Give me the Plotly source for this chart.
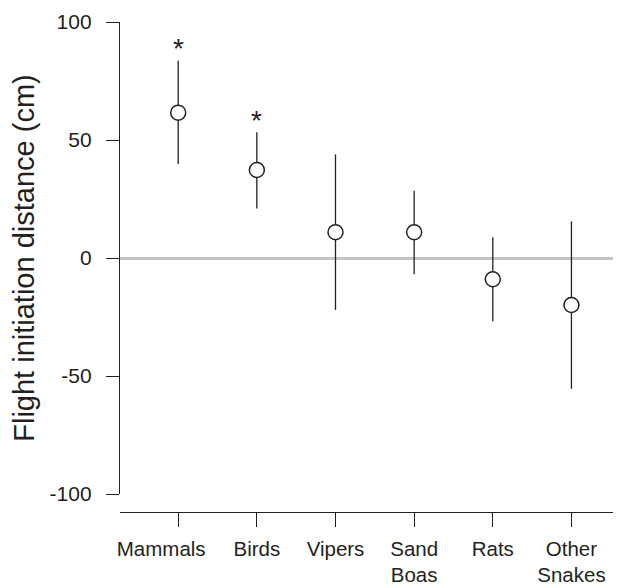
import plotly.graph_objects as go

# ---- data ----
categories = ["Mammals", "Birds", "Vipers", "Sand<br>Boas", "Rats", "Other<br>Snakes"]
means = [61.6, 37.3, 10.9, 10.9, -9.0, -19.9]
upper = [83.6, 53.3, 43.9, 28.5, 8.8, 15.5]
lower = [39.8, 21.0, -22.0, -6.9, -26.8, -55.4]
significant = [True, True, False, False, False, False]
y_ticks = [-100, -50, 0, 50, 100]
y_tick_text = ["-100", "-50", "0", "50", "100"]
y_title = "Flight initiation distance (cm)"

ink = "#231f20"
font_family = "Liberation Sans, Arial, sans-serif"

x_pos = list(range(len(categories)))
err_plus = [u - m for u, m in zip(upper, means)]
err_minus = [m - l for m, l in zip(means, lower)]

# the first label sits ~17 px left of its tick in the reference (style offset)
px_per_cat = 78.7
label_offsets = [-17 / px_per_cat] + [0.0] * (len(categories) - 1)
label_pos = [p + o for p, o in zip(x_pos, label_offsets)]

fig = go.Figure()
fig.add_trace(go.Scatter(
    x=x_pos, y=means, mode="markers",
    marker=dict(symbol="circle", size=15, color="white",
                line=dict(color=ink, width=1.5)),
    error_y=dict(type="data", symmetric=False, array=err_plus,
                 arrayminus=err_minus, color=ink, thickness=1.3, width=0),
    showlegend=False, hoverinfo="skip",
))

for i, sig in enumerate(significant):
    if sig:
        fig.add_annotation(x=x_pos[i], y=upper[i], text="*", showarrow=False,
                           yanchor="middle", yshift=12,
                           font=dict(size=28, color=ink, family=font_family))

fig.update_layout(
    width=613, height=580,
    margin=dict(l=112, r=0, t=14, b=76, autoexpand=False),
    paper_bgcolor="white", plot_bgcolor="white",
    font=dict(family=font_family, color=ink, size=21),
    xaxis=dict(
        range=[-0.74, 5.63], tickmode="array", tickvals=label_pos,
        ticktext=categories, tickangle=0, automargin=False,
        ticks="", ticklabelstandoff=18,
        minor=dict(tickmode="array", tickvals=x_pos, ticks="outside",
                   ticklen=14, tickwidth=1.3, tickcolor=ink, showgrid=False),
        showline=True, linecolor=ink, linewidth=1.3,
        showgrid=False, zeroline=False,
        anchor="free", position=0,
        tickfont=dict(size=20.5, color=ink, family=font_family),
    ),
    yaxis=dict(
        range=[-100, 100], domain=[0.0367, 1], automargin=False,
        tickmode="array", tickvals=y_ticks, ticktext=y_tick_text,
        ticks="outside", ticklen=13, tickwidth=1.3, tickcolor=ink,
        showline=True, linecolor=ink, linewidth=1.3,
        showgrid=False,
        zeroline=True, zerolinecolor="#c4c4c4", zerolinewidth=3,
        tickfont=dict(size=21, color=ink, family=font_family),
        ticklabelstandoff=10,
        title=dict(text=y_title, font=dict(size=29, color=ink, family=font_family),
                   standoff=10),
    ),
)

fig.write_html("out.html")
